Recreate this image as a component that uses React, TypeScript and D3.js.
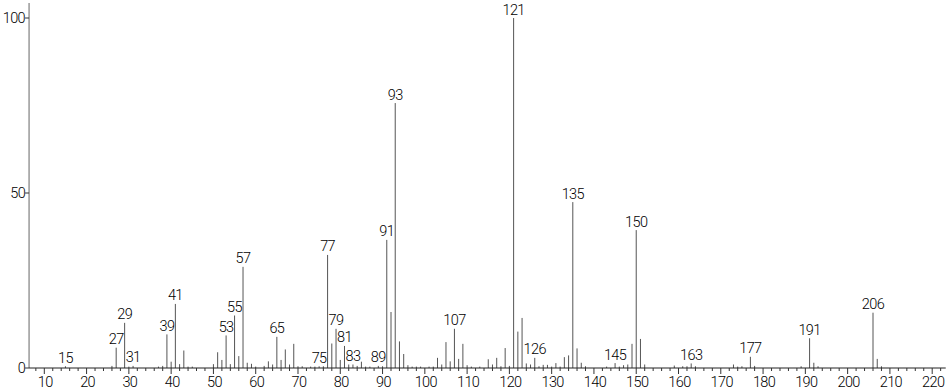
import React from "react";
import * as d3 from "d3";

const mzValues = [15, 26, 27, 29, 30, 31, 37, 38, 39, 40, 41, 42, 43, 44, 45, 50, 51, 52, 53, 54, 55, 56, 57, 58, 59, 60, 62, 63, 64, 65, 66, 67, 68, 69, 70, 71, 73, 74, 75, 76, 77, 78, 79, 80, 81, 82, 83, 84, 85, 86, 87, 89, 90, 91, 92, 93, 94, 95, 96, 97, 98, 99, 101, 102, 103, 104, 105, 106, 107, 108, 109, 110, 111, 113, 115, 116, 117, 118, 119, 120, 121, 122, 123, 124, 125, 126, 127, 128, 129, 130, 131, 132, 133, 134, 135, 136, 137, 138, 143, 145, 146, 147, 148, 149, 150, 151, 152, 159, 161, 162, 163, 164, 173, 174, 175, 177, 178, 189, 191, 192, 193, 206, 207, 208];
const intensities = [0.5, 0.6, 5.8, 12.9, 0.4, 0.6, 0.4, 0.6, 9.6, 1.8, 18.3, 1.1, 5.0, 0.4, 0.4, 1.1, 4.5, 2.3, 9.3, 1.1, 15.0, 3.4, 28.9, 1.5, 1.2, 0.4, 0.6, 1.9, 1.0, 8.9, 2.3, 5.3, 1.0, 6.9, 0.5, 0.5, 0.4, 0.4, 0.5, 0.5, 32.3, 7.0, 11.2, 2.3, 6.3, 1.0, 1.0, 0.6, 1.8, 0.4, 0.4, 0.6, 0.5, 36.6, 16.0, 75.7, 7.6, 4.0, 0.8, 0.4, 0.4, 0.4, 0.4, 0.4, 2.9, 1.0, 7.4, 1.9, 11.2, 2.6, 6.9, 0.8, 0.4, 0.4, 2.5, 1.0, 2.9, 0.5, 5.7, 0.6, 100, 10.4, 14.3, 1.3, 1.0, 2.9, 0.5, 0.9, 0.9, 0.4, 1.4, 0.4, 3.1, 3.6, 47.4, 5.6, 1.5, 0.5, 0.4, 1.4, 0.4, 0.8, 1.0, 6.9, 39.4, 8.3, 1.0, 0.7, 0.5, 0.5, 1.3, 0.5, 1.0, 0.4, 0.5, 3.2, 0.6, 0.5, 8.5, 1.5, 0.5, 15.8, 2.6, 0.5];
const labeledPeaks = [15, 27, 29, 31, 39, 41, 53, 55, 57, 65, 75, 77, 79, 81, 83, 89, 91, 93, 107, 121, 126, 135, 145, 150, 163, 177, 191, 206];
const xTickLabels = [10, 20, 30, 40, 50, 60, 70, 80, 90, 100, 110, 120, 130, 140, 150, 160, 170, 180, 190, 200, 210, 220];
const yTickLabels = [0, 50, 100];

const FONT = "Roboto, 'Liberation Sans', sans-serif";
const textStyle = { fontFamily: FONT, fontWeight: 300, fontSize: 14.5, letterSpacing: "-0.6px" } as const;

export default function App() {
  const width = 951;
  const height = 389;
  const x = d3.scaleLinear().domain([10, 220]).range([44.3, 932.2]);
  const y = d3.scaleLinear().domain([0, 100]).range([368, 18]);
  const x0 = x(6.4);
  const xEnd = x(223.2);
  const minorTicks = d3.range(8, 223, 2).filter((v) => v % 10 !== 0);
  const peaks = mzValues.map((m, i) => ({ m, v: intensities[i] }));
  const peakMap = new Map(peaks.map((p) => [p.m, p.v]));

  return (
    <svg
      width={width}
      height={height}
      style={{ position: "absolute", left: 0, top: 0, background: "#fff" }}
    >
      <line x1={x0} x2={x0} y1={3} y2={y(0)} stroke="#999" strokeWidth={1.5} />
      {yTickLabels.map((t) => (
        <g key={"y" + t}>
          <line x1={x0 - 4} x2={x0} y1={y(t)} y2={y(t)} stroke="#333" />
          <text x={x0 - 4} y={y(t)} dy="0.36em" textAnchor="end" fill="#000" style={textStyle}>
            {t}
          </text>
        </g>
      ))}
      {peaks.map((p) => (
        <line
          key={"p" + p.m}
          x1={x(p.m)}
          x2={x(p.m)}
          y1={y(0)}
          y2={y(p.v)}
          stroke="#555"
          strokeWidth={1}
        />
      ))}
      <line x1={x0} x2={xEnd} y1={y(0)} y2={y(0)} stroke="#222" strokeWidth={1} />
      {minorTicks.map((t) => (
        <line key={"m" + t} x1={x(t)} x2={x(t)} y1={y(0)} y2={y(0) + 3} stroke="#333" />
      ))}
      {xTickLabels.map((t) => (
        <g key={"x" + t}>
          <line x1={x(t)} x2={x(t)} y1={y(0)} y2={y(0) + 6} stroke="#333" />
          <text x={x(t) + 1} y={386.5} textAnchor="middle" fill="#000" style={textStyle}>
            {t}
          </text>
        </g>
      ))}
      {labeledPeaks.map((m) => (
        <text
          key={"l" + m}
          x={x(m)}
          y={y(peakMap.get(m) ?? 0) - 3.5}
          textAnchor="middle"
          fill="#000"
          style={textStyle}
        >
          {m}
        </text>
      ))}
    </svg>
  );
}
